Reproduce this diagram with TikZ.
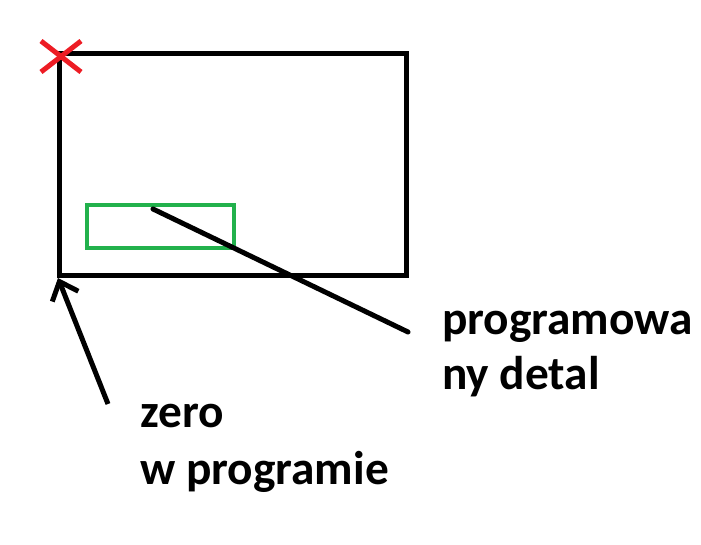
\documentclass[tikz,border=0pt]{standalone}
\usepackage{fontspec}
\setmainfont{Carlito}
\usetikzlibrary{arrows.meta}
\definecolor{paintred}{RGB}{237,28,36}
\definecolor{paintgreen}{RGB}{34,177,76}
\tikzset{
  opis/.style={anchor=base west, inner sep=0pt, font=\fontsize{35.5}{42}\selectfont\bfseries},
  gruba/.style={line width=3.75pt},
}
\begin{document}
\begin{tikzpicture}[x=0.75pt,y=-0.75pt]
\useasboundingbox (0,0) rectangle (701,545);
% detal i material
\coordinate (matA) at (59,54);
\coordinate (matB) at (406,276);
\draw[gruba] (matA) rectangle (matB);
\coordinate (detA) at (87,205.5);
\coordinate (detB) at (233.5,248.5);
\draw[color=paintgreen, line width=3pt] (detA) rectangle (detB);
% zero maszyny
\draw[color=paintred, line width=3.75pt] (41,41)--(81,72);
\draw[color=paintred, line width=3.75pt] (81,41)--(41,72);
% opisy
\node[opis] (progA) at (442,335) {programowa};
\node[opis] (progB) at (442,390) {ny detal};
\node[opis] (zeroA) at (140,428) {zero};
\node[opis] (zeroB) at (140,485) {w programie};
\coordinate (detPt) at (153,209);
\coordinate (progPt) at (408,332);
\draw[gruba, line cap=round] (detPt)--(progPt);
\coordinate (zeroPt) at (108,404);
\coordinate (zeroTip) at (58,278);
\draw[gruba, -{Straight Barb[length=12pt,width=21pt]}] (zeroPt)--(zeroTip);
\end{tikzpicture}
\end{document}
